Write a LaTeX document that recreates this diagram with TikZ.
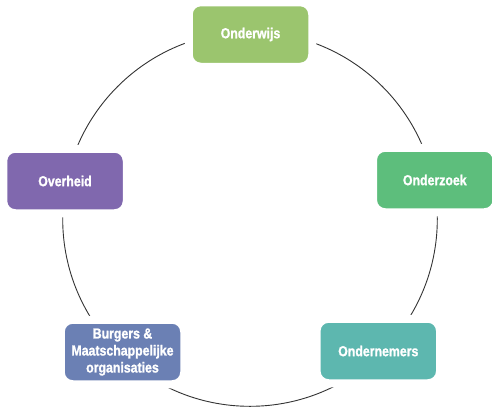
\documentclass[tikz,border=0pt]{standalone}
\usepackage{fontspec}
\newfontfamily\boxfont[FakeStretch=0.85, FakeBold=1.2]{Liberation Sans Bold}
\definecolor{cOnderwijs}{HTML}{9BC56E}
\definecolor{cOnderzoek}{HTML}{5DBE7C}
\definecolor{cOndernemers}{HTML}{5DB7AF}
\definecolor{cBurgers}{HTML}{6B80B4}
\definecolor{cOverheid}{HTML}{8068AE}
\definecolor{ringcol}{HTML}{333333}
\tikzset{
  box/.style={rectangle, rounded corners=12pt, minimum width=123.5pt, minimum height=64.5pt,
    draw=white, line width=8pt, text=white, align=center, inner sep=0pt,
    font=\boxfont\fontsize{14.5}{17}\selectfont},
  ring/.style={draw=ringcol, line width=0.9pt}
}
\begin{document}
\begin{tikzpicture}[x=1pt,y=-1pt]
\useasboundingbox (0,0) rectangle (492,408);
\coordinate (c) at (250,219);
\draw[ring] (c) circle[radius=187.3];
\node[box, fill=cOnderwijs]   (onderwijs)   at (250.5,34.5) {Onderwijs};
\node[box, fill=cOnderzoek]   (onderzoek)   at (434.8,180)  {Onderzoek};
\node[box, fill=cOndernemers] (ondernemers) at (378.3,351)  {Ondernemers};
\node[box, fill=cBurgers]     (burgers)     at (122.5,352)  {Burgers \&\\Maatschappelijke\\organisaties};
\node[box, fill=cOverheid]    (overheid)    at (65,181)     {Overheid};
\end{tikzpicture}
\end{document}
